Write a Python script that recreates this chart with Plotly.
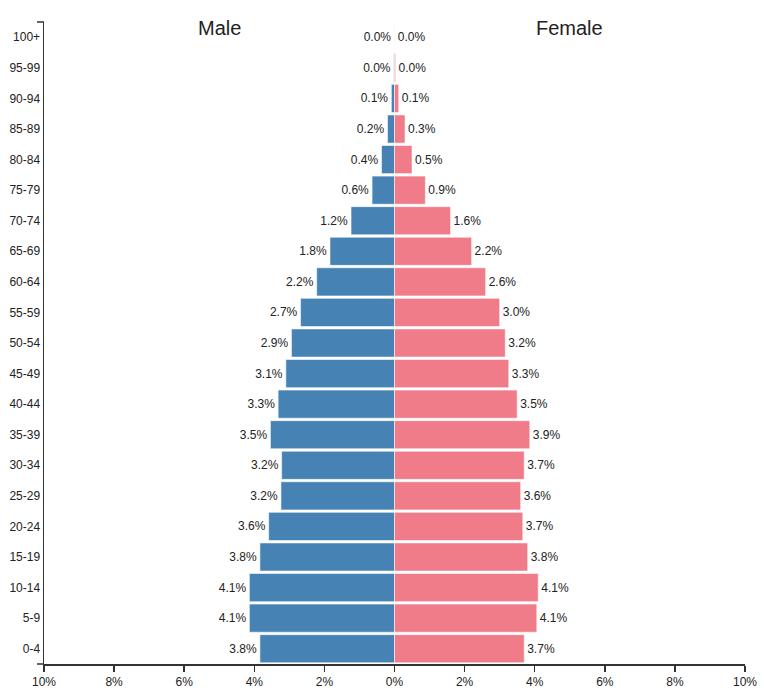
import plotly.graph_objects as go

age_groups = ["0-4", "5-9", "10-14", "15-19", "20-24", "25-29", "30-34", "35-39",
              "40-44", "45-49", "50-54", "55-59", "60-64", "65-69", "70-74", "75-79",
              "80-84", "85-89", "90-94", "95-99", "100+"]
male = [3.84, 4.14, 4.14, 3.84, 3.59, 3.24, 3.22, 3.54, 3.32, 3.10, 2.94, 2.68,
        2.22, 1.84, 1.24, 0.64, 0.37, 0.20, 0.09, 0.02, 0.004]
female = [3.70, 4.06, 4.10, 3.80, 3.66, 3.60, 3.70, 3.86, 3.50, 3.26, 3.16, 3.00,
          2.60, 2.20, 1.60, 0.88, 0.50, 0.30, 0.12, 0.03, 0.006]
x_ticks = [-10, -8, -6, -4, -2, 0, 2, 4, 6, 8, 10]

font_family = "Arial, Liberation Sans, sans-serif"
text_color = "#222222"
axis_color = "#333333"

fig = go.Figure()
fig.add_trace(go.Bar(
    y=age_groups, x=[-v for v in male], orientation="h", name="Male",
    marker=dict(color="#4682b4", line=dict(color="rgba(255,255,255,0.55)", width=1)),
    text=[f"{v:.1f}%" for v in male], textposition="outside",
    textfont=dict(size=12, color=text_color, family=font_family),
    cliponaxis=False, hoverinfo="skip",
))
fig.add_trace(go.Bar(
    y=age_groups, x=female, orientation="h", name="Female",
    marker=dict(color="#f07b89", line=dict(color="rgba(255,255,255,0.55)", width=1)),
    text=[f"{v:.1f}%" for v in female], textposition="outside",
    textfont=dict(size=12, color=text_color, family=font_family),
    cliponaxis=False, hoverinfo="skip",
))

fig.update_layout(
    width=764, height=694,
    margin=dict(l=44, r=19, t=22, b=30),
    barmode="overlay", bargap=0.08,
    showlegend=False,
    plot_bgcolor="white", paper_bgcolor="white",
    font=dict(family=font_family, size=12, color=text_color),
    xaxis=dict(
        range=[-10, 10], tickvals=x_ticks,
        ticktext=[f"{abs(t)}%" for t in x_ticks],
        showgrid=False, zeroline=False, automargin=False,
        showline=True, linecolor=axis_color, linewidth=1.5,
        ticks="outside", ticklen=6, tickcolor=axis_color, tickwidth=1.5,
        tickfont=dict(size=12, color=text_color),
        fixedrange=True,
    ),
    yaxis=dict(
        categoryorder="array", categoryarray=age_groups,
        range=[-0.5, len(age_groups) - 0.5],
        showgrid=False, zeroline=False, automargin=False,
        showline=True, linecolor=axis_color, linewidth=1.5,
        ticks="", ticklabelstandoff=0,
        tickfont=dict(size=12, color=text_color),
        fixedrange=True,
    ),
    annotations=[
        dict(x=-5, y=0.99, xref="x", yref="paper", text="Male", showarrow=False,
             font=dict(size=20, color=text_color), xanchor="center", yanchor="middle"),
        dict(x=5, y=0.99, xref="x", yref="paper", text="Female", showarrow=False,
             font=dict(size=20, color=text_color), xanchor="center", yanchor="middle"),
    ],
)
# outer ticks of the left axis (top and bottom)
for yy in (0, 1):
    fig.add_shape(type="line", xref="paper", yref="paper", xsizemode="pixel", xanchor=0,
                  x0=-7, x1=0, y0=yy, y1=yy, line=dict(color=axis_color, width=1.5))

fig.write_html("out.html", config={"displayModeBar": False, "staticPlot": True},
               post_script="document.body.style.margin='0';document.body.style.overflow='hidden';")
